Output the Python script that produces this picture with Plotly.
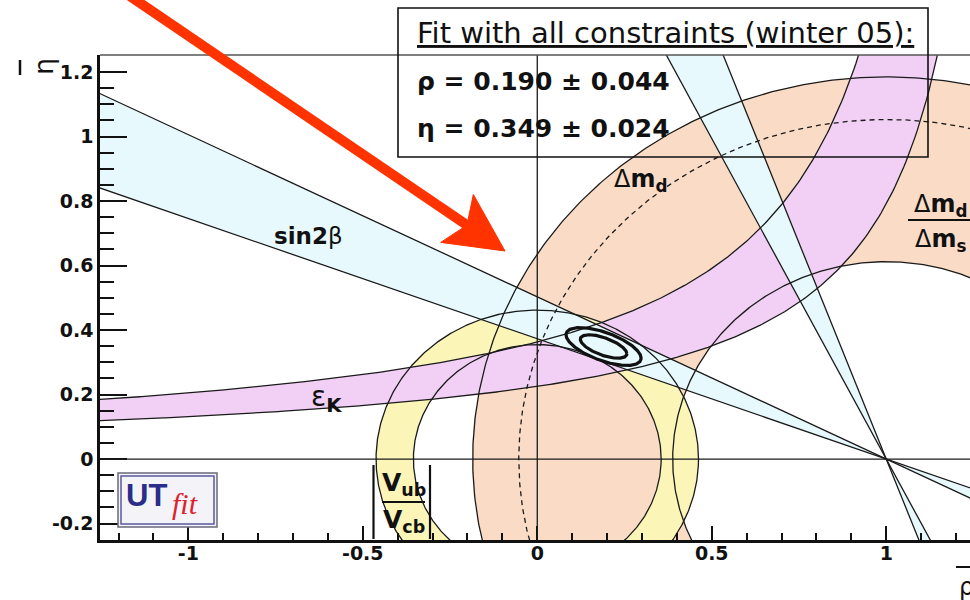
import numpy as np
import plotly.graph_objects as go

# ---------------------------------------------------------------- data
# axis ranges (rho-bar horizontally, eta-bar vertically)
rho_range = [-1.253, 1.240]
eta_range = [-0.251, 1.253]

# tick labels
x_tick_vals = [-1, -0.5, 0, 0.5, 1]
x_tick_text = ["-1", "-0.5", "0", "0.5", "1"]
y_tick_vals = [-0.2, 0, 0.2, 0.4, 0.6, 0.8, 1.0, 1.2]
y_tick_text = ["-0.2", "0", "0.2", "0.4", "0.6", "0.8", "1", "1.2"]

# sin2beta: tan(beta) of the two band edges (lines through (1, 0)),
# plus the mirrored solution beta -> 90deg - beta
sin2b_tan_beta = [0.373, 0.503]
# Delta m_d: annulus around (1, 0)
dmd_radii = [0.612, 1.185]
# Delta m_d / Delta m_s: limit circle around (1, 0)
dms_radius = 1.053
# |Vub/Vcb|: annulus around (0, 0)
vub_radii = [0.355, 0.462]
# eps_K: band between hyperbolae eta = k / (b - rho)
epsk_k = [0.315, 0.471]
epsk_b = [1.398, 1.297]
# global fit result
fit_rho, fit_rho_err = 0.190, 0.044
fit_eta, fit_eta_err = 0.349, 0.024
fit_corr = -0.62
fit_levels = [2.30, 5.99]  # 68% and 95% probability contours, 2 dof

# ---------------------------------------------------------------- styles
C_DMD = "#fadcc6"
C_VUB = "#fbf6b8"
C_EPSK = "#f2d0f5"
C_S2B = "#e7f9fc"
C_LINE = "#1a1a1a"
C_ARROW = "#ff3300"
FONT = "DejaVu Sans"

# figure geometry (pixels) used to place decorations in paper units
FIG_W, FIG_H = 970, 600
ML, MT, MR, MB = 100, 55, 0, 60
PW, PH = FIG_W - ML - MR, FIG_H - MT - MB


def px(x):
    return (x - ML) / PW


def py(y):
    return (MT + PH - y) / PH


fig = go.Figure()
theta = np.linspace(0, 2 * np.pi, 721)
ext = 1.4  # how far the straight constraints run past the frame


def fill_poly(x, y, color):
    fig.add_trace(go.Scatter(x=x, y=y, mode="lines", fill="toself",
                             fillcolor=color, line=dict(width=0),
                             hoverinfo="skip"))


def curve(x, y, width=1.3, dash=None, color=C_LINE):
    fig.add_trace(go.Scatter(x=x, y=y, mode="lines",
                             line=dict(color=color, width=width, dash=dash),
                             hoverinfo="skip"))


def annulus(cx, cy, r_in, r_out):
    x = np.concatenate([cx + r_out * np.cos(theta), cx + r_in * np.cos(theta[::-1])])
    y = np.concatenate([cy + r_out * np.sin(theta), cy + r_in * np.sin(theta[::-1])])
    return x, y


# Delta m_d annulus
fill_poly(*annulus(1.0, 0.0, dmd_radii[0], dmd_radii[1]), C_DMD)
# |Vub/Vcb| annulus
fill_poly(*annulus(0.0, 0.0, vub_radii[0], vub_radii[1]), C_VUB)

# eps_K band
rho_top = [b - k / ext for k, b in zip(epsk_k, epsk_b)]
r_lo = np.linspace(-ext, rho_top[0], 400)
r_hi = np.linspace(-ext, rho_top[1], 400)
eta_lo = epsk_k[0] / (epsk_b[0] - r_lo)
eta_hi = epsk_k[1] / (epsk_b[1] - r_hi)
fill_poly(np.concatenate([r_hi, r_lo[::-1]]), np.concatenate([eta_hi, eta_lo[::-1]]), C_EPSK)

# sin2beta wedges (bow-ties through (1, 0))
t_lo, t_hi = sin2b_tan_beta
rl, rr = -ext, ext
fill_poly([rl, rl, rr, rr],
          [t_lo * (1 - rl), t_hi * (1 - rl), t_hi * (1 - rr), t_lo * (1 - rr)], C_S2B)
et, eb = ext, -0.5
fill_poly([1 - et * t_lo, 1 - et * t_hi, 1 - eb * t_hi, 1 - eb * t_lo],
          [et, et, eb, eb], C_S2B)

# ---- boundaries
for r in dmd_radii:
    curve(1.0 + r * np.cos(theta), r * np.sin(theta))
curve(1.0 + dms_radius * np.cos(theta), dms_radius * np.sin(theta), dash="5px,4px")
for r in vub_radii:
    curve(r * np.cos(theta), r * np.sin(theta))
curve(r_lo, eta_lo)
curve(r_hi, eta_hi)
for t in sin2b_tan_beta:
    curve([rl, rr], [t * (1 - rl), t * (1 - rr)])
    curve([1 - et * t, 1 - eb * t], [et, eb])

# ---- fit contours
cov = np.array([[fit_rho_err ** 2, fit_corr * fit_rho_err * fit_eta_err],
                [fit_corr * fit_rho_err * fit_eta_err, fit_eta_err ** 2]])
chol = np.linalg.cholesky(cov)
unit = np.vstack([np.cos(theta), np.sin(theta)])
for lev in fit_levels:
    pts = chol @ unit * np.sqrt(lev)
    curve(fit_rho + pts[0], fit_eta + pts[1], width=3.2, color="#111111")

# ---------------------------------------------------------------- shapes
shapes = [
    # axes through the origin
    dict(type="line", xref="paper", yref="y", x0=0, x1=1, y0=0, y1=0,
         line=dict(color=C_LINE, width=1.3), layer="above"),
    dict(type="line", xref="x", yref="paper", x0=0, x1=0, y0=0, y1=1,
         line=dict(color=C_LINE, width=1.3), layer="above"),
    # top frame
    dict(type="line", xref="paper", yref="paper", x0=0, x1=1, y0=1, y1=1,
         line=dict(color="#555555", width=1.6), layer="above"),
    # result box
    dict(type="rect", xref="paper", yref="paper", x0=px(398), x1=px(928),
         y0=py(157), y1=py(8), line=dict(color="#111111", width=1.6), layer="above"),
    # fraction bars
    dict(type="line", xref="paper", yref="paper", x0=px(908), x1=px(975),
         y0=py(220), y1=py(220), line=dict(color="#111111", width=2.2), layer="above"),
    dict(type="line", xref="paper", yref="paper", x0=px(382), x1=px(425),
         y0=py(502), y1=py(502), line=dict(color="#111111", width=2.2), layer="above"),
    dict(type="line", xref="paper", yref="paper", x0=px(373.5), x1=px(373.5),
         y0=py(539), y1=py(465), line=dict(color="#111111", width=2.2), layer="above"),
    dict(type="line", xref="paper", yref="paper", x0=px(430), x1=px(430),
         y0=py(539), y1=py(465), line=dict(color="#111111", width=2.2), layer="above"),
    # UTfit logo frame
    dict(type="rect", xref="paper", yref="paper", x0=px(118), x1=px(217),
         y0=py(527), y1=py(473), line=dict(color="#6a6a7a", width=1.5),
         fillcolor="#f3f3f8", layer="above"),
    dict(type="rect", xref="paper", yref="paper", x0=px(121), x1=px(214),
         y0=py(524), y1=py(476), line=dict(color="#5a5aa0", width=1.5), layer="above"),
    # overbars of the axis titles
    dict(type="line", xref="paper", yref="paper", x0=px(956), x1=px(972),
         y0=py(567), y1=py(567), line=dict(color="#111111", width=2), layer="above"),
    dict(type="line", xref="paper", yref="paper", x0=px(20), x1=px(20),
         y0=py(75), y1=py(60), line=dict(color="#111111", width=2.5), layer="above"),
]

# red arrow
tip = np.array([505.0, 251.0])
u = np.array([0.827, 0.562])
n = np.array([-0.562, 0.827])
start = tip - u * 460
body_end = tip - u * 46
w1 = tip - 58 * u + 29 * n
w2 = tip - 58 * u - 29 * n
notch = tip - 46 * u
shapes.append(dict(type="line", xref="paper", yref="paper",
                   x0=px(start[0]), y0=py(start[1]), x1=px(body_end[0]), y1=py(body_end[1]),
                   line=dict(color=C_ARROW, width=10), layer="above"))
head = "M {} {} L {} {} L {} {} L {} {} Z".format(
    px(tip[0]), py(tip[1]), px(w1[0]), py(w1[1]), px(notch[0]), py(notch[1]),
    px(w2[0]), py(w2[1]))
shapes.append(dict(type="path", xref="paper", yref="paper", path=head,
                   fillcolor=C_ARROW, line=dict(color=C_ARROW, width=1), layer="above"))

# ---------------------------------------------------------------- texts
def label(x, y, text, size=22, xanchor="center", color="#111111", family=FONT,
          angle=0, yanchor="middle"):
    return dict(xref="paper", yref="paper", x=px(x), y=py(y), text=text,
                showarrow=False, xanchor=xanchor, yanchor=yanchor, textangle=angle,
                font=dict(family=family, size=size, color=color))


annotations = [
    label(415, 33, "<u>Fit with all constraints (winter 05):</u>", size=29, xanchor="left"),
    label(415, 81, "<b>ρ = 0.190 ± 0.044</b>", size=25, xanchor="left"),
    label(415, 128, "<b>η = 0.349 ± 0.024</b>", size=25, xanchor="left"),
    label(308, 236, "<b>sin2</b>β", size=23),
    label(640, 180, "Δ<b>m</b><sub><b>d</b></sub>", size=24),
    label(940, 205, "Δ<b>m</b><sub><b>d</b></sub>", size=24),
    label(940, 240, "Δ<b>m</b><sub><b>s</b></sub>", size=24),
    label(326, 399, "ε<sub><b>K</b></sub>", size=28),
    label(404, 484, "<b>V</b><sub><b>ub</b></sub>", size=25),
    label(404, 521, "<b>V</b><sub><b>cb</b></sub>", size=25),
    label(146, 495, "<b>UT</b>", size=31, color="#2a2d8a", family="Liberation Sans"),
    label(185, 503, "<i>fit</i>", size=30, color="#e0202a", family="Liberation Serif"),
    label(957, 587, "ρ", size=24, xanchor="left"),
    label(43, 66, "η", size=27, angle=-90),
]

# ---------------------------------------------------------------- layout
tick_font = dict(family=FONT, size=19, color="#111111", weight="bold")
fig.update_layout(
    width=FIG_W, height=FIG_H,
    margin=dict(l=ML, r=MR, t=MT, b=MB),
    paper_bgcolor="white", plot_bgcolor="white",
    showlegend=False,
    shapes=shapes, annotations=annotations,
    xaxis=dict(range=rho_range, showgrid=False, zeroline=False,
               showline=True, linecolor="#111111", linewidth=3,
               tickmode="array", tickvals=x_tick_vals, ticktext=x_tick_text,
               ticks="inside", ticklen=14, tickwidth=2, tickcolor="#111111",
               ticklabelstandoff=-6, tickfont=tick_font,
               minor=dict(tickmode="linear", tick0=0, dtick=0.1, ticks="inside",
                          ticklen=7, tickwidth=1.5, tickcolor="#111111")),
    yaxis=dict(range=eta_range, showgrid=False, zeroline=False,
               showline=True, linecolor="#111111", linewidth=2.5,
               tickmode="array", tickvals=y_tick_vals, ticktext=y_tick_text,
               ticks="inside", ticklen=27, tickwidth=2, tickcolor="#111111",
               ticklabelstandoff=0, tickfont=tick_font,
               minor=dict(tickmode="linear", tick0=0, dtick=0.05, ticks="inside",
                          ticklen=14, tickwidth=1.5, tickcolor="#111111")),
)

fig.write_html("out.html")
